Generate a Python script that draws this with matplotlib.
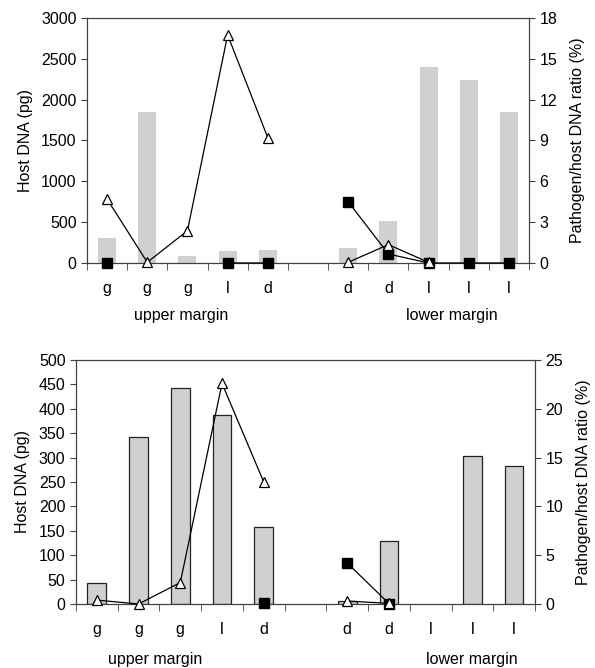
import numpy as np
import matplotlib
matplotlib.use("Agg")
from matplotlib import pyplot as plt

plt.rcParams['font.family'] = ['Liberation Sans', 'DejaVu Sans']
plt.rcParams['font.size'] = 11.5

# categories (slot 6 is an empty gap between the two margins)
cats = ['g', 'g', 'g', 'l', 'd', '', 'd', 'd', 'l', 'l', 'l']
groups = ['upper margin', 'lower margin']

# top panel
top_host = [300, 1850, 90, 150, 165, np.nan, 180, 510, 2400, 2240, 1850]
top_tri = [4.7, 0.05, 2.37, 16.75, 9.2, np.nan, 0.05, 1.35, 0.05, np.nan, np.nan]
top_sq = [0, np.nan, np.nan, 0, 0, np.nan, 4.5, 0.66, 0, 0, 0]

# bottom panel
bot_host = [44, 342, 443, 388, 157, np.nan, 7, 130, np.nan, 303, 282]
bot_tri = [0.4, 0.0, 2.2, 22.6, 12.5, np.nan, 0.3, 0.07, np.nan, np.nan, np.nan]
bot_sq = [np.nan, np.nan, np.nan, np.nan, 0.1, np.nan, 4.2, 0.05, np.nan, np.nan, np.nan]

bar_col = '#d0d0d3'
spine_col = '#404040'
x = np.arange(len(cats))


def panel(rect, host, tri, sq, ymax, yticks, rmax, rticks, edged, grp_x, grp_y):
    ax = fig.add_axes(rect)
    if edged:
        ax.bar(x, host, width=0.45, color=bar_col, edgecolor='#222222', linewidth=0.9)
    else:
        ax.bar(x, host, width=0.45, color=bar_col, edgecolor='none')
    ax.set_xlim(-0.5, len(cats) - 0.5)
    ax.set_ylim(0, ymax)
    ax.set_yticks(yticks)
    ax.set_ylabel('Host DNA (pg)', labelpad=6)
    ax.set_xticks(x)
    ax.set_xticklabels(cats)
    ax.tick_params(axis='x', length=0, pad=13)
    ax.set_xticks(np.arange(-0.5, len(cats)), minor=True)
    ax.tick_params(axis='x', which='minor', length=5, direction='out', color=spine_col)
    ax.tick_params(axis='y', length=4, color=spine_col)
    for s in ax.spines.values():
        s.set_color(spine_col)
    for gx, g in zip(grp_x, groups):
        ax.text(gx, grp_y, g, transform=ax.transAxes, ha='center', va='top')

    ax2 = ax.twinx()
    ax2.set_ylim(0, rmax)
    ax2.set_yticks(rticks)
    ax2.set_ylabel('Pathogen/host DNA ratio (%)', labelpad=9)
    ax2.tick_params(axis='y', length=4, color=spine_col)
    for s in ax2.spines.values():
        s.set_color(spine_col)
    ax2.plot(x, sq, color='black', lw=0.9, marker='s', ms=6.5,
             mfc='black', mec='black', clip_on=False, zorder=3)
    ax2.plot(x, tri, color='black', lw=0.9, marker='^', ms=7.5,
             mfc='white', mec='black', mew=0.9, clip_on=False, zorder=4)
    return ax, ax2


fig = plt.figure(figsize=(5.95, 6.68), dpi=100)

panel([0.1462, 0.6063, 0.7429, 0.3668], top_host, top_tri, top_sq,
      3000, np.arange(0, 3001, 500), 18, np.arange(0, 19, 3), False,
      [0.213, 0.826], -0.185)

panel([0.1277, 0.0958, 0.7714, 0.3653], bot_host, bot_tri, bot_sq,
      500, np.arange(0, 501, 50), 25, np.arange(0, 26, 5), True,
      [0.172, 0.863], -0.195)

fig.savefig('out.png', dpi=100)
